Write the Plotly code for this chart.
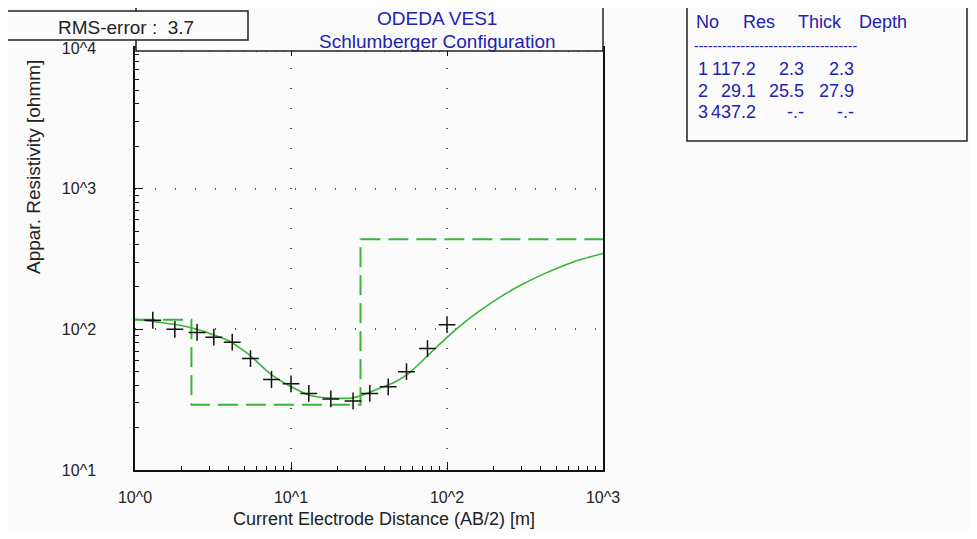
import plotly.graph_objects as go

# ---------------- data ----------------
ab2 = [1.3, 1.8, 2.5, 3.2, 4.2, 5.5, 7.5, 10, 13, 18, 25, 32, 42, 55, 75, 100]
rho_obs = [116, 100, 95, 88, 81, 62, 44, 41, 35, 32, 31, 35, 39, 50, 73, 108]

curve_x = [1, 1.45, 1.95, 2.5, 3.25, 4.05, 5.45, 7.3, 9.9, 13.2, 15.3, 19, 24, 27.7,
           32, 37, 46, 58, 74.5, 100, 140, 190, 280, 425, 660, 1000]
curve_y = [118, 112, 107, 100, 90.6, 82.2, 65.4, 48.7, 39.4, 34.0, 32.9, 32.4, 32.4, 33.5,
           35.7, 38.1, 42.1, 49.5, 64.4, 87.8, 120, 153, 199, 250, 304, 346]

layer_no = ["1", "2", "3"]
layer_res = [117.2, 29.1, 437.2]
layer_thick = ["2.3", "25.5", "-.-"]
layer_depth = ["2.3", "27.9", "-.-"]
depths = [2.3, 27.9]

x_tickvals = [1, 10, 100, 1000]
x_ticktext = ["10^0", "10^1", "10^2", "10^3"]
y_tickvals = [10, 100, 1000, 10000]
y_ticktext = ["10^1", "10^2", "10^3", "10^4"]

title1 = "ODEDA VES1"
title2 = "Schlumberger Configuration"
rms_text = "RMS-error :  3.7"
xlabel = "Current Electrode Distance (AB/2) [m]"
ylabel = "Appar. Resistivity [ohmm]"

# ---------------- layout helpers ----------------
PAGE_W, PAGE_H = 977, 539
OFF = 8                      # default body margin of the html page
W, H = PAGE_W - 2 * OFF, PAGE_H - 2 * OFF
L, R, T, B = 135, 603, 48, 470   # plot area in page pixels
FONT = "Liberation Sans"
GREEN = "#38b438"
BLUE = "#2222b0"
BG = "#fbfbfb"
FS = 19


def px(xp):
    return (xp - L) / (R - L)


def py(yp):
    return (B - yp) / (B - T)


# step model line built from layer values
step_x = [1]
step_y = [layer_res[0]]
for i, d in enumerate(depths):
    step_x += [d, d]
    step_y += [layer_res[i], layer_res[i + 1]]
step_x.append(1000)
step_y.append(layer_res[-1])

fig = go.Figure()
fig.add_trace(go.Scatter(x=step_x, y=step_y, mode="lines",
                         line=dict(color=GREEN, width=2, dash="20px,8px"),
                         showlegend=False, hoverinfo="skip"))
fig.add_trace(go.Scatter(x=curve_x, y=curve_y, mode="lines",
                         line=dict(color=GREEN, width=1.6, shape="spline", smoothing=0.5),
                         showlegend=False))
fig.add_trace(go.Scatter(x=ab2, y=rho_obs, mode="markers",
                         marker=dict(symbol="cross-thin", size=12,
                                     line=dict(color="#111", width=1.5)),
                         showlegend=False))

minor_vals = [m * 10 ** d for d in range(0, 4) for m in range(2, 10)]

common = dict(ticks="inside", ticklen=8, tickwidth=1.2, tickcolor="#111",
              showline=True, linecolor="#111", linewidth=1.5,
              showgrid=True, gridcolor="#555", gridwidth=2, griddash="1px,19px",
              zeroline=False, tickfont=dict(family=FONT, size=16, color="#222"),
              minor=dict(tickvals=minor_vals, ticks="inside", ticklen=4,
                         tickcolor="#111", showgrid=False))

fig.update_xaxes(type="log", range=[0, 3], tickvals=x_tickvals, ticktext=x_ticktext,
                 mirror="ticks", ticklabelstandoff=12, **common)
fig.update_yaxes(type="log", range=[1, 4], tickvals=y_tickvals, ticktext=y_ticktext,
                 mirror=True, ticklabelstandoff=34, **common)

shapes = [
    # header box
    dict(type="rect", xref="paper", yref="paper", x0=px(136), x1=1, y0=py(51), y1=py(7),
         line=dict(color="#222", width=1.5), fillcolor=BG, layer="above"),
    # RMS box
    dict(type="rect", xref="paper", yref="paper", x0=px(0), x1=px(248), y0=py(40), y1=py(11),
         line=dict(color="#222", width=1.5), fillcolor=BG, layer="above"),
    # table box
    dict(type="rect", xref="paper", yref="paper", x0=px(687), x1=px(967), y0=py(141), y1=py(7),
         line=dict(color="#222", width=1.5), fillcolor=BG, layer="above"),
]

ann = []


def text(s, xp, yp, anchor="center", color=BLUE, size=FS, angle=0):
    ann.append(dict(text=s, x=px(xp), y=py(yp), xref="paper", yref="paper",
                    xanchor=anchor, yanchor="middle", showarrow=False, textangle=angle,
                    font=dict(family=FONT, size=size, color=color)))


text(title1, 437, 19)
text(title2, 437, 41)
text(rms_text, 126, 27, color="#222")
text(xlabel, 384, 519, color="#222", size=18)
text(ylabel, 33, 167, color="#222", angle=-90)

# table
TS = 18
text("No", 694, 22, anchor="left", size=TS)
text("Res", 741, 22, anchor="left", size=TS)
text("Thick", 796, 22, anchor="left", size=TS)
text("Depth", 857, 22, anchor="left", size=TS)
text("-" * 35, 692, 46, anchor="left", size=14)
row_y = [69, 91, 112]
for i in range(3):
    text(layer_no[i], 696, row_y[i], anchor="left", size=TS)
    text(f"{layer_res[i]:.1f}", 758, row_y[i], anchor="right", size=TS)
    text(layer_thick[i], 806, row_y[i], anchor="right", size=TS)
    text(layer_depth[i], 856, row_y[i], anchor="right", size=TS)

fig.update_layout(width=W, height=H,
                  margin=dict(l=L - OFF, r=PAGE_W - OFF - R, t=T - OFF, b=PAGE_H - OFF - B, pad=0),
                  paper_bgcolor=BG, plot_bgcolor=BG, shapes=shapes, annotations=ann,
                  showlegend=False)

fig.write_html("out.html")
